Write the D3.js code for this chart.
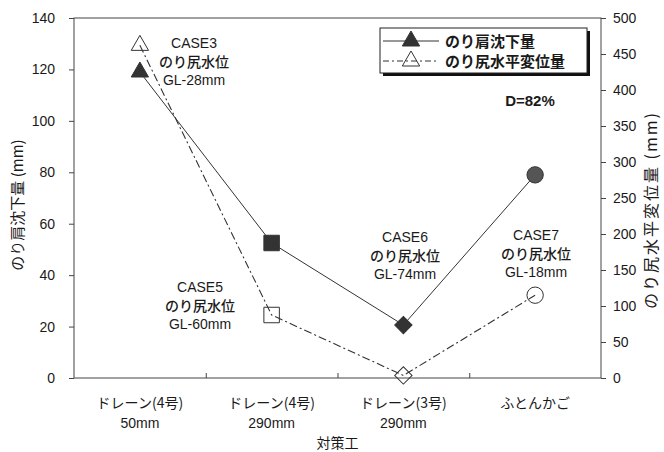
<!DOCTYPE html>
<html>
<head>
<meta charset="utf-8">
<script src="https://cdn.jsdelivr.net/npm/d3@7"></script>
<style>
  html, body { margin: 0; padding: 0; background: #fff; }
  svg { display: block; }
  .num { font-family: "Liberation Sans", Arial, sans-serif; fill: #1a1a1a; }
  .jp  { font-family: "Noto Sans CJK JP", "Noto Sans", sans-serif; fill: #1a1a1a; }
</style>
</head>
<body>
<svg id="chart" width="664" height="452"></svg>
<script>
// categories (two label lines each)
const categories = [
  ['ドレーン(4号)', '50mm'],
  ['ドレーン(4号)', '290mm'],
  ['ドレーン(3号)', '290mm'],
  ['ふとんかご', ''],
];
const settlement = [119, 52.5, 20.6, 79];   // のり肩沈下量 (mm), left axis
const horizontal = [462, 87.5, 3.5, 115];   // のり尻水平変位量 (mm), right axis
const shapes = ['triangle', 'square', 'diamond', 'circle'];
const caseNames = ['CASE3', 'CASE5', 'CASE6', 'CASE7'];
const waterLevels = ['GL-28mm', 'GL-60mm', 'GL-74mm', 'GL-18mm'];
const leftTicks = d3.range(0, 141, 20);
const rightTicks = d3.range(0, 501, 50);

const svg = d3.select('#chart');
const m = { left: 74, right: 601, top: 18, bottom: 378 };

const x = d3.scaleBand().domain(d3.range(categories.length)).range([m.left, m.right]);
const yL = d3.scaleLinear().domain([0, 140]).range([m.bottom, m.top]);
const yR = d3.scaleLinear().domain([0, 500]).range([m.bottom, m.top]);
const cx = i => x(i) + x.bandwidth() / 2;

// frame
svg.append('rect')
  .attr('x', m.left).attr('y', m.top)
  .attr('width', m.right - m.left).attr('height', m.bottom - m.top)
  .attr('fill', 'none').attr('stroke', '#444').attr('stroke-width', 1);

// left axis
const gl = svg.append('g').attr('transform', `translate(${m.left},0)`)
  .call(d3.axisLeft(yL).tickValues(leftTicks).tickSize(5).tickPadding(14));
// right axis
const gr = svg.append('g').attr('transform', `translate(${m.right},0)`)
  .call(d3.axisRight(yR).tickValues(rightTicks).tickSize(5).tickPadding(7));
// bottom ticks at category boundaries, pointing inward
const gb = svg.append('g').attr('transform', `translate(0,${m.bottom})`)
  .call(d3.axisBottom(d3.scaleLinear().domain([m.left, m.right]).range([m.left, m.right]))
    .tickValues(d3.range(1, categories.length).map(i => x(i)))
    .tickSize(-5).tickFormat(''));

[gl, gr, gb].forEach(g => {
  g.select('.domain').remove();
  g.selectAll('.tick line').attr('stroke', '#444');
  g.selectAll('.tick text').attr('class', 'num').style('font-size', '14px');
});
gl.selectAll('.tick text').attr('text-anchor', 'end');

// category labels
categories.forEach((c, i) => {
  const t = svg.append('text').attr('class', 'jp').attr('text-anchor', 'middle')
    .style('font-size', '14px').attr('x', cx(i));
  t.append('tspan').attr('x', cx(i)).attr('y', 408).text(c[0]);
  if (c[1]) t.append('tspan').attr('class', 'num').attr('x', cx(i)).attr('y', 428).text(c[1]);
});

// axis titles
svg.append('text').attr('class', 'jp').attr('text-anchor', 'middle')
  .style('font-size', '15px')
  .attr('transform', `translate(23,205) rotate(-90)`)
  .text('のり肩沈下量 (mm)');
svg.append('text').attr('class', 'jp').attr('text-anchor', 'middle')
  .style('font-size', '16px').style('letter-spacing', '2px')
  .attr('transform', `translate(657,210) rotate(-90)`)
  .text('のり尻水平変位量 (mm)');
svg.append('text').attr('class', 'jp').attr('text-anchor', 'middle')
  .style('font-size', '14px').attr('x', (m.left + m.right) / 2).attr('y', 448)
  .text('対策工');

// lines
const dashDot = '8,3,2,3';
svg.append('path')
  .datum(settlement)
  .attr('fill', 'none').attr('stroke', '#333').attr('stroke-width', 1)
  .attr('d', d3.line().x((d, i) => cx(i)).y(d => yL(d)));
svg.append('path')
  .datum(horizontal)
  .attr('fill', 'none').attr('stroke', '#333').attr('stroke-width', 1.1)
  .attr('stroke-dasharray', dashDot)
  .attr('d', d3.line().x((d, i) => cx(i)).y(d => yR(d)));

// markers
const symTypes = {
  triangle: [d3.symbolTriangle, 130, 0],
  square:   [d3.symbolSquare, 240, 0],
  diamond:  [d3.symbolSquare, 150, 45],
  circle:   [d3.symbolCircle, 210, 0],
};
function marker(g, shape, px, py, filled) {
  const [type, size, rot] = symTypes[shape];
  g.append('path')
    .attr('d', d3.symbol().type(type).size(size)())
    .attr('transform', `translate(${px},${py}) rotate(${rot})`)
    .attr('fill', filled ? (shape === 'circle' ? '#555' : '#333') : 'none')
    .attr('stroke', '#333').attr('stroke-width', 1);
}
const mk = svg.append('g');
horizontal.forEach((d, i) => marker(mk, shapes[i], cx(i), yR(d), false));
settlement.forEach((d, i) => marker(mk, shapes[i], cx(i), yL(d), true));

// case annotations
const notePos = [[194, 48], [200, 292], [405, 242], [536, 240]];
caseNames.forEach((c, i) => {
  const [nx, ny] = notePos[i];
  const t = svg.append('text').attr('text-anchor', 'middle').attr('x', nx);
  t.append('tspan').attr('class', 'num').style('font-size', '14px').attr('x', nx).attr('y', ny).text(c);
  t.append('tspan').attr('class', 'jp').style('font-size', '14px').style('font-weight', 500)
    .attr('x', nx).attr('y', ny + 19).text('のり尻水位');
  t.append('tspan').attr('class', 'num').style('font-size', '14px').attr('x', nx).attr('y', ny + 37).text(waterLevels[i]);
});

// legend
const lg = svg.append('g');
lg.append('rect').attr('x', 383).attr('y', 31).attr('width', 207).attr('height', 45).attr('fill', '#111');
lg.append('rect').attr('x', 380).attr('y', 28).attr('width', 207).attr('height', 45)
  .attr('fill', '#fff').attr('stroke', '#222').attr('stroke-width', 1);
const legendRows = [
  { label: 'のり肩沈下量', dash: null, filled: true, y: 41 },
  { label: 'のり尻水平変位量', dash: '6,3,2,3', filled: false, y: 61 },
];
legendRows.forEach(r => {
  lg.append('line').attr('x1', 383).attr('x2', 439).attr('y1', r.y).attr('y2', r.y)
    .attr('stroke', '#333').attr('stroke-width', 1).attr('stroke-dasharray', r.dash);
  marker(lg, 'triangle', 411, r.y, r.filled);
  lg.append('text').attr('class', 'jp').style('font-size', '15px').style('font-weight', 700)
    .attr('x', 445).attr('y', r.y + 6).text(r.label);
});

svg.append('text').attr('class', 'num').style('font-size', '15px').style('font-weight', 700)
  .attr('text-anchor', 'middle').attr('x', 530).attr('y', 106).text('D=82%');
</script>
</body>
</html>
